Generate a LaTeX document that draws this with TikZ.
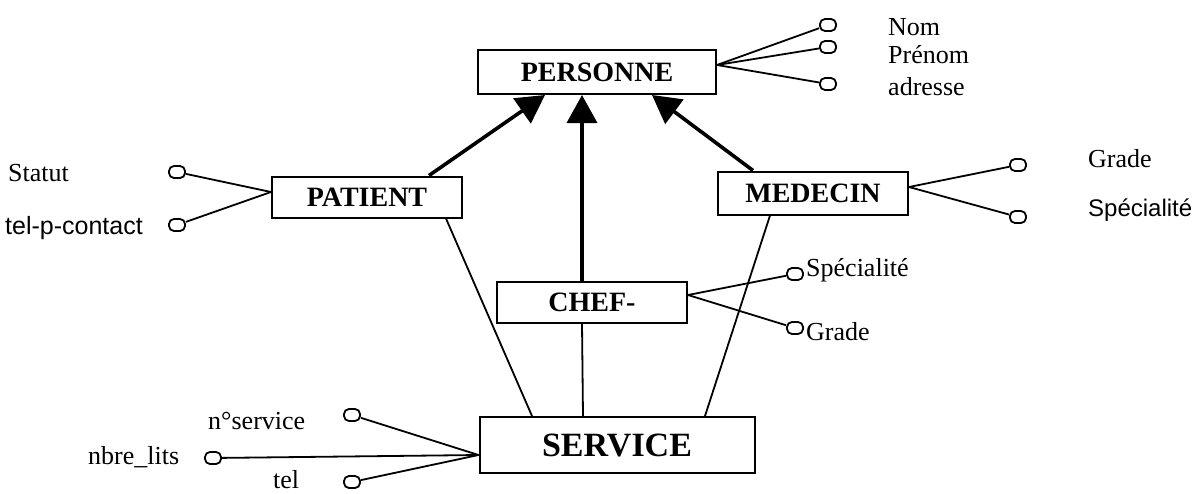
\documentclass[tikz,border=0pt]{standalone}
\usepackage{fontspec}
\setmainfont{Liberation Serif}
\newfontfamily\arialfont{Liberation Sans}
\usetikzlibrary{arrows.meta}
\tikzset{
  classe/.style={draw,line width=2pt,inner sep=0pt,font=\fontsize{28}{32}\selectfont\bfseries},
  attr/.style={draw,line width=1.8pt,rounded corners=5pt,minimum width=16pt,minimum height=12pt,inner sep=0pt},
  lien/.style={line width=1.8pt},
  herit/.style={line width=3.6pt,-{Triangle[length=28pt,width=30pt]}},
  nom/.style={font=\fontsize{26}{30}\selectfont,inner sep=0pt,anchor=west}
}
\begin{document}
\begin{tikzpicture}[x=1pt,y=-1pt]
\useasboundingbox (0,0) rectangle (1197,493);
% classes
\node[classe,minimum width=238pt,minimum height=44pt] (personne) at (597,72) {PERSONNE};
\node[classe,minimum width=190pt,minimum height=41pt] (patient) at (367,197) {PATIENT};
\node[classe,minimum width=190pt,minimum height=43pt] (medecin) at (813,193) {MEDECIN};
\node[classe,minimum width=190pt,minimum height=41pt] (chef) at (592,302) {CHEF-};
\node[classe,minimum width=275pt,minimum height=56pt,font=\fontsize{34}{38}\selectfont\bfseries] (service) at (617,445) {SERVICE};
% heritage
\draw[herit] ([xshift=-34pt]patient.north east) -- ([xshift=-52pt]personne.south);
\draw[herit] ([xshift=-10pt]chef.north) -- ([xshift=-15pt]personne.south);
\draw[herit] ([xshift=-60pt]medecin.north) -- ([xshift=55pt]personne.south);
% liens vers SERVICE
\draw[lien] ([xshift=-17pt]patient.south east) -- ([xshift=-85pt]service.north);
\draw[lien] ([xshift=-10pt]chef.south) -- ([xshift=-34pt]service.north);
\draw[lien] ([xshift=-43pt]medecin.south) -- ([xshift=88pt]service.north);
% attributs
\foreach \n/\x/\y in {nom/828/25,prenom/828/47,adresse/828/84}{
  \node[attr] (\n) at (\x,\y) {};
  \draw[lien] ([yshift=7pt]personne.east) -- (\n);
}
\node[nom] (l-nom) at (888,27) {Nom};
\node[nom] (l-prenom) at (888,55) {Prénom};
\node[nom] (l-adresse) at (888,87) {adresse};
\foreach \n/\x/\y in {statut/177/172,telpc/177/225}{
  \node[attr] (\n) at (\x,\y) {};
  \draw[lien] ([yshift=5pt]patient.west) -- (\n);
}
\node[nom] (l-statut) at (8,173) {Statut};
\node[nom,font=\fontsize{25}{30}\arialfont] (l-telpc) at (5,228) {tel-p-contact};
\foreach \n/\x/\y in {grade/1018/165,specialite/1018/217}{
  \node[attr] (\n) at (\x,\y) {};
  \draw[lien] ([yshift=6pt]medecin.east) -- (\n);
}
\node[nom] (l-grade) at (1088,159) {Grade};
\node[nom,font=\fontsize{24}{29}\arialfont] (l-specialite) at (1088,210) {Spécialité};
\foreach \n/\x/\y in {cspecialite/795/274,cgrade/795/328}{
  \node[attr] (\n) at (\x,\y) {};
  \draw[lien] ([yshift=7pt]chef.east) -- (\n);
}
\node[nom] (l-cspecialite) at (806,270) {Spécialité};
\node[nom] (l-cgrade) at (806,332) {Grade};
\foreach \n/\x/\y in {nservice/352/415,nbrelits/213/458,tel/352/482}{
  \node[attr] (\n) at (\x,\y) {};
  \draw[lien] ([yshift=-10pt]service.west) -- (\n);
}
\node[nom] (l-nservice) at (208,421) {n°service};
\node[nom] (l-nbrelits) at (88,457) {nbre\_lits};
\node[nom,anchor=base west] (l-tel) at (273,488) {tel};
\end{tikzpicture}
\end{document}
